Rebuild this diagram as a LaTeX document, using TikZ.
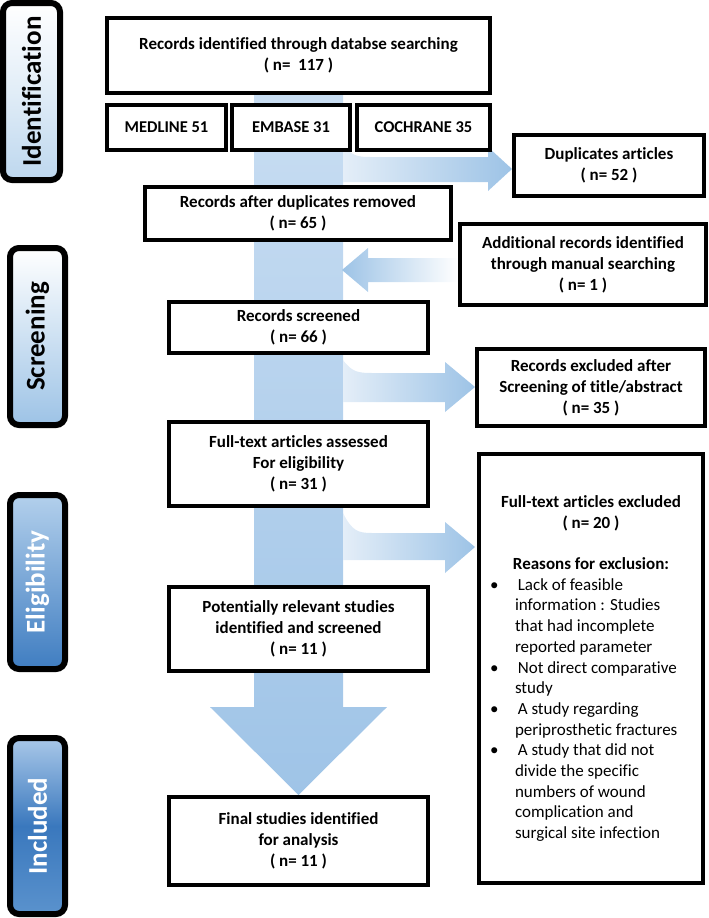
\documentclass[tikz,border=0pt]{standalone}
\usepackage{fontspec}
\setmainfont{Carlito}[Ligatures=NoCommon]

\definecolor{arrowblue}{HTML}{9DC3E6}
\definecolor{paleblue}{HTML}{E4EEF8}
\definecolor{shafttop}{HTML}{C8DDF2}
\definecolor{shaftbot}{HTML}{9FC4E7}
\definecolor{idbot}{HTML}{BDD7EE}
\definecolor{scrbot}{HTML}{9DC3E6}
\definecolor{eltop}{HTML}{B3D0EC}
\definecolor{elbot}{HTML}{3F7DC1}
\definecolor{intop}{HTML}{A9C8E9}
\definecolor{inmid}{HTML}{3A78BD}
\definecolor{inbot}{HTML}{5A92CD}

\newcommand{\bulitem}[1]{\makebox[31pt][l]{\hspace{6pt}\textbullet}\,#1}
\newcommand{\contitem}[1]{\hspace*{31pt}#1}

\tikzset{
  box/.style={draw, line width=4pt, fill=white, align=center, inner sep=3pt,
    font=\bfseries\fontsize{17}{21}\selectfont},
  phase/.style={draw, line width=6pt, rounded corners=9pt},
  sidearrow/.style={left color=paleblue, right color=arrowblue},
}

\begin{document}
\begin{tikzpicture}[x=1pt,y=-1pt]
  \useasboundingbox (0,0) rectangle (709,918);

  % the big arrow running down the middle
  \shade[top color=shafttop, bottom color=shaftbot] (254,95) -- (343,95) -- (343,707)
    -- (387,707) -- (298.5,795) -- (210,707) -- (254,707) -- cycle;
  % bent arrows leaving the main flow
  \shade[sidearrow] (343,145) .. controls (352,156) and (358,157) .. (370,157) -- (488,157)
    -- (488,147) -- (512,169) -- (488,191) -- (488,182) -- (343,182) -- cycle;
  \shade[sidearrow] (343,360) .. controls (352,372) and (358,373) .. (372,373) -- (445,373)
    -- (445,362) -- (475,387) -- (445,412) -- (445,402) -- (343,402) -- cycle;
  \shade[sidearrow] (343,513) .. controls (352,531) and (358,533) .. (372,533) -- (445,533)
    -- (445,522) -- (475,547) -- (445,573) -- (445,560) -- (343,560) -- cycle;
  % arrow coming in from the manual search
  \shade[left color=arrowblue, right color=white] (342,270) -- (368,248) -- (368,258)
    -- (458,258) -- (458,282) -- (368,282) -- (368,292) -- cycle;

  % boxes of the main flow
  \node[box, minimum width=383, minimum height=75] (search) at (298.5,55.5)
    {Records identified through databse searching\\( n=~ 117 )};
  \foreach \name/\x/\w/\txt in {medline/166.5/119/MEDLINE 51,
                                embase/291/118/EMBASE 31,
                                cochrane/423.5/133/COCHRANE 35}{%
    \node[box, minimum width=\w, minimum height=45,
      font=\bfseries\fontsize{16.5}{20}\selectfont] (\name) at (\x,127.5) {\txt};
  }
  \node[box, minimum width=306, minimum height=53] (afterdup) at (298,213.5)
    {Records after duplicates removed\\( n= 65 )};
  \node[box, minimum width=259, minimum height=51] (screened) at (298.5,327.5)
    {Records screened\\( n= 66 )};
  \node[box, minimum width=259, minimum height=84] (fulltext) at (298.5,464)
    {Full-text articles assessed\\For eligibility\\( n= 31 )};
  \node[box, minimum width=259, minimum height=84] (potential) at (298.5,629)
    {Potentially relevant studies\\identified and screened\\( n= 11 )};
  \node[box, minimum width=259, minimum height=88] (final) at (298.5,841)
    {Final studies identified\\for analysis\\( n= 11 )};

  % boxes on the right
  \node[box, minimum width=190, minimum height=61] (dupl) at (609,165.5)
    {Duplicates articles\\( n= 52 )};
  \node[box, minimum width=246, minimum height=81] (manual) at (583,264.5)
    {Additional records identified\\through manual searching\\( n= 1 )};
  \node[box, minimum width=228, minimum height=77] (scrout) at (591,387.5)
    {Records excluded after\\Screening of title/abstract\\( n= 35 )};
  \node[box, minimum width=224, minimum height=429, align=left,
    font=\fontsize{17}{20.7}\selectfont] (fullout) at (591,668.5) {%
    \makebox[214pt][c]{\bfseries Full-text articles excluded}\\
    \makebox[214pt][c]{\bfseries ( n= 20 )}\\[20.7pt]
    \makebox[214pt][c]{\bfseries Reasons for exclusion:}\\
    \bulitem{Lack of feasible}\\
    \contitem{information : Studies}\\
    \contitem{that had incomplete}\\
    \contitem{reported parameter}\\
    \bulitem{Not direct comparative}\\
    \contitem{study}\\
    \bulitem{A study regarding}\\
    \contitem{periprosthetic fractures}\\
    \bulitem{A study that did not}\\
    \contitem{divide the specific}\\
    \contitem{numbers of wound}\\
    \contitem{complication and}\\
    \contitem{surgical site infection}};

  % phase labels on the left
  \foreach \name/\xa/\ya/\xb/\yb/\topc/\midc/\botc/\txtc/\lbl in {%
      ident/3/3/60/180/white/white!55!idbot/idbot/black/Identification,
      screen/10/248/65/425/white/white!50!scrbot/scrbot/black/Screening,
      elig/10/495/65/669/eltop/eltop!50!elbot/elbot/white/Eligibility,
      incl/10/738/65/914/intop/inmid/inbot/white/Included}{%
    \shadedraw[phase, top color=\topc, bottom color=\botc, middle color=\midc]
      (\xa,\ya) rectangle (\xb,\yb);
    \node[rotate=90, text=\txtc, font=\bfseries\fontsize{27}{30}\selectfont] (\name)
      at ({(\xa+\xb)/2},{(\ya+\yb)/2}) {\lbl};
  }
\end{tikzpicture}
\end{document}
